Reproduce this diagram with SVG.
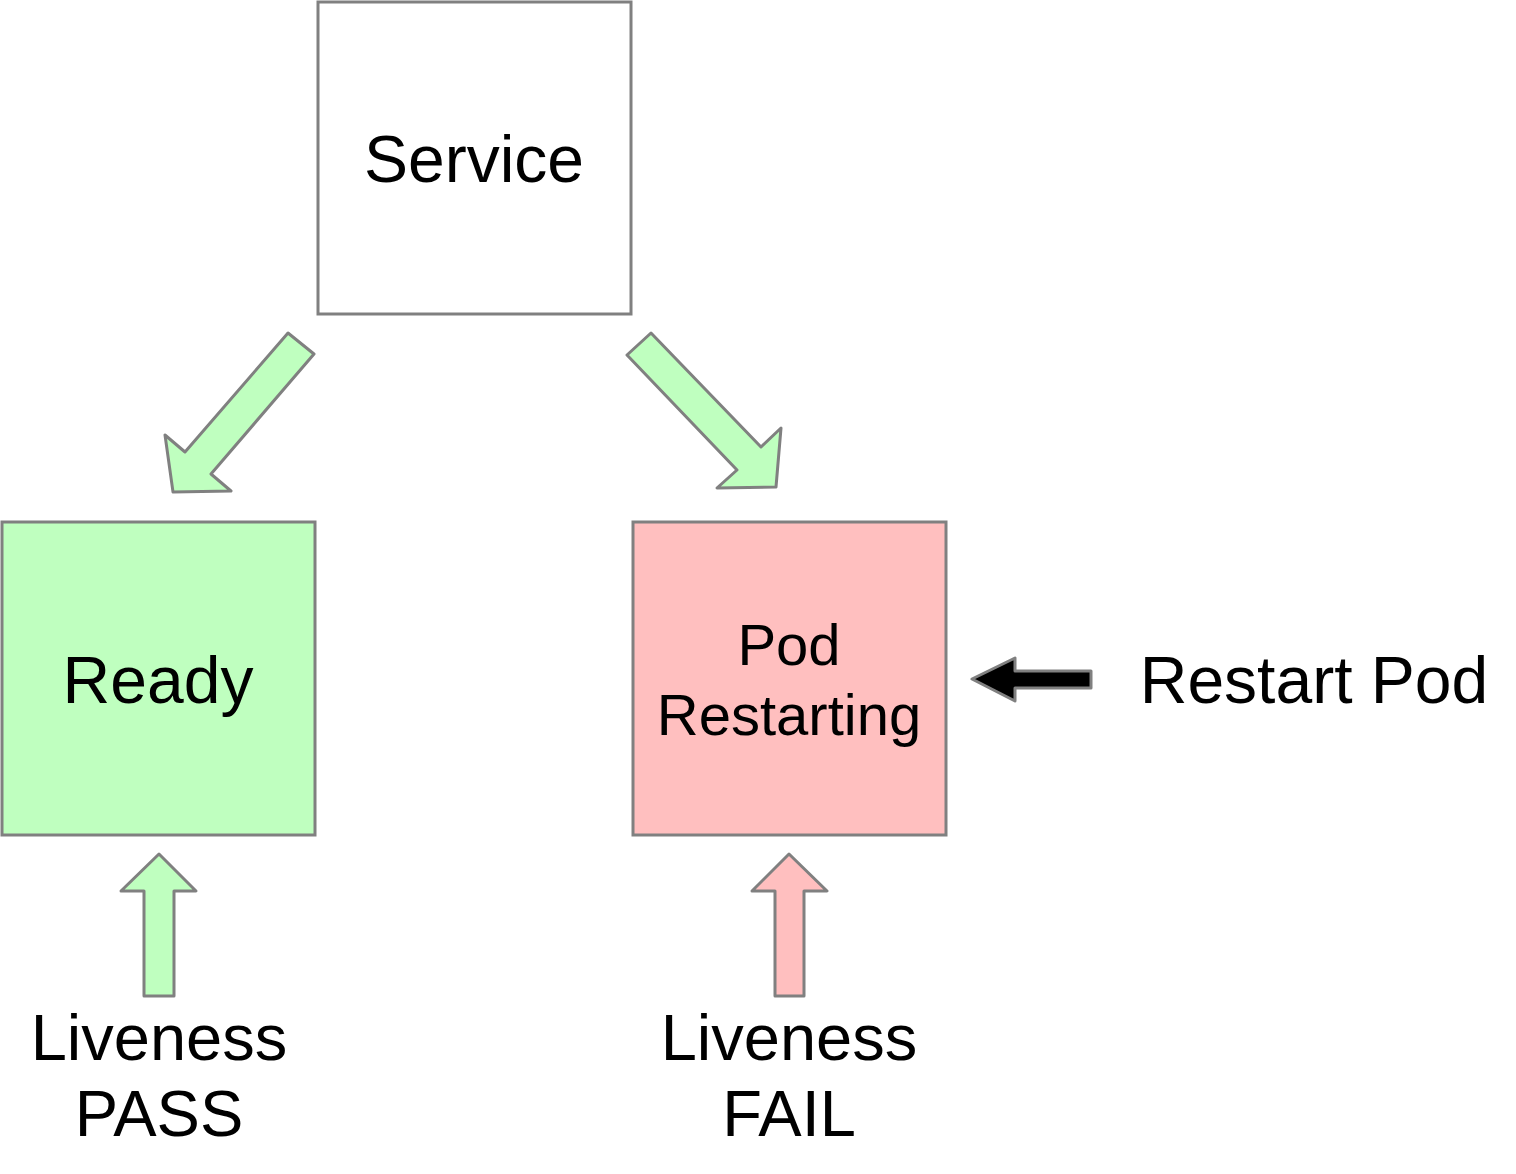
<svg xmlns="http://www.w3.org/2000/svg" width="1516" height="1174" viewBox="0 0 1516 1174">
<style>
.box{stroke:#808080;stroke-width:3}
.arr{stroke:#808080;stroke-width:3;stroke-linejoin:round}
.g{fill:#bfffbf}
.p{fill:#ffbfbf}
.t{font-family:"Liberation Sans",Arial,sans-serif;fill:#000;text-anchor:middle}
</style>
<rect width="1516" height="1174" fill="#fff"/>
<g id="service">
<rect class="box" x="318" y="2" width="313" height="312" fill="#fff"/>
<text class="t" x="474" y="182" font-size="66">Service</text>
</g>
<g id="ready">
<rect class="box g" x="2" y="522" width="313" height="313"/>
<text class="t" x="158" y="703" font-size="66">Ready</text>
</g>
<g id="pod-restarting">
<rect class="box p" x="633" y="522" width="313" height="313"/>
<text class="t" x="789" y="665" font-size="58">Pod</text>
<text class="t" x="789" y="735" font-size="58">Restarting</text>
</g>
<g id="restart-pod">
<text class="t" x="1314" y="703" font-size="66">Restart Pod</text>
</g>
<g id="liveness-pass">
<text class="t" x="159" y="1060" font-size="65">Liveness</text>
<text class="t" x="159" y="1136" font-size="65">PASS</text>
</g>
<g id="liveness-fail">
<text class="t" x="789" y="1060" font-size="65">Liveness</text>
<text class="t" x="789" y="1136" font-size="65">FAIL</text>
</g>
<g id="connectors">
<polygon class="arr g" points="288,333 314,354 211,474 231,491 173,492 165,435 185,452"/>
<polygon class="arr g" points="651,333 761,447 781,428 776,487 717,488 737,470 627,355"/>
<polygon class="arr g" points="159,854 196,891 174,891 174,996 144,996 144,891 121,891"/>
<polygon class="arr p" points="789,854 827,891 804,891 804,996 775,996 775,891 752,891"/>
<polygon class="arr" fill="#000" points="972,679 1015,658 1015,671 1091,671 1091,688 1015,688 1015,701"/>
</g>
</svg>
